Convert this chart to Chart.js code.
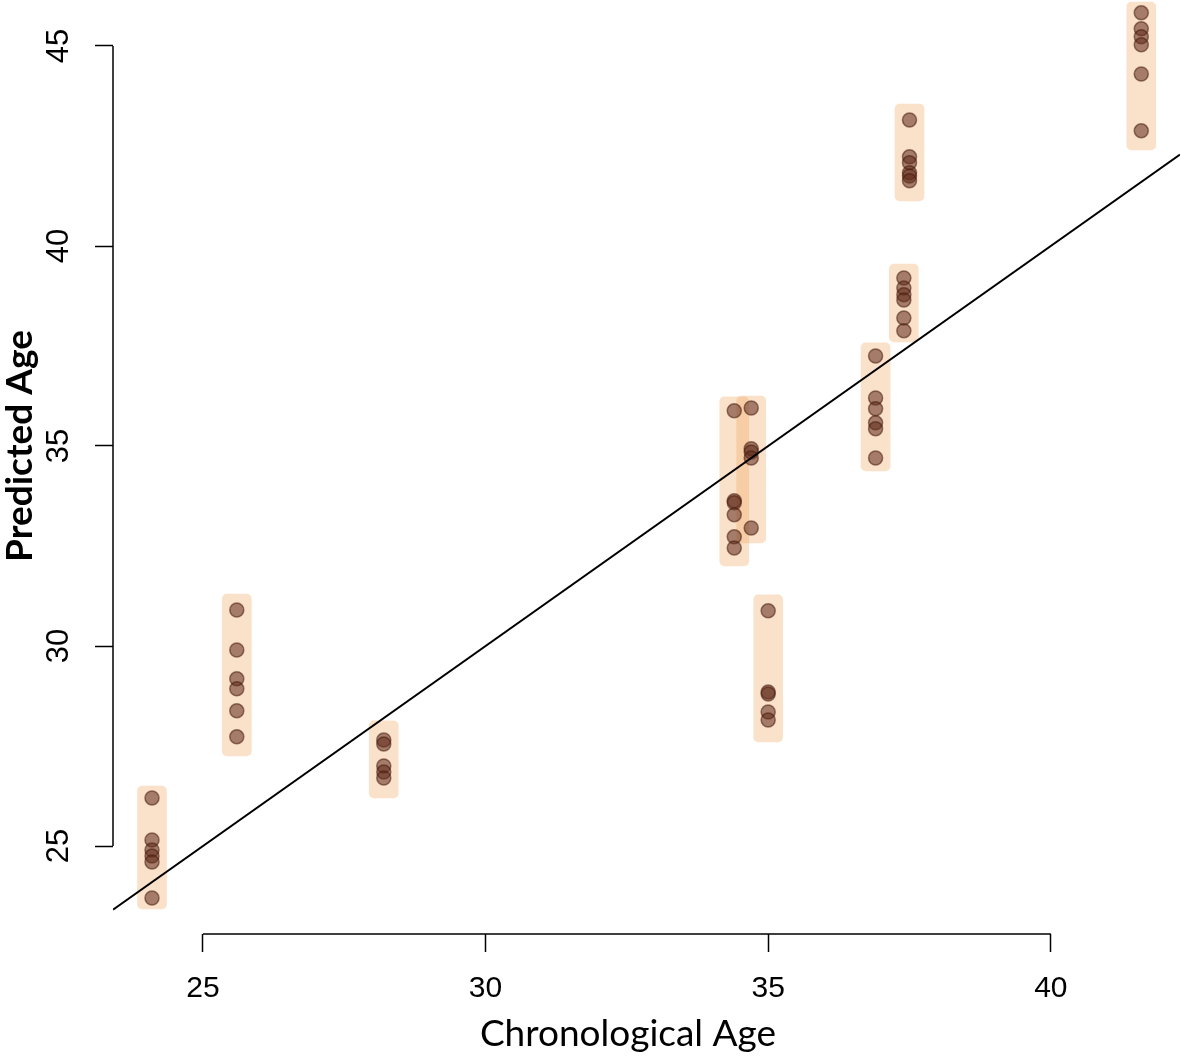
<!DOCTYPE html>
<html><head><meta charset="utf-8">
<script src="https://cdn.jsdelivr.net/npm/chart.js@4.4.1/dist/chart.umd.min.js"></script>
<style>html,body{margin:0;padding:0;background:#fff}#wrap{width:1181px;height:1057px;position:relative}</style>
</head><body><div id="wrap"><canvas id="c"></canvas></div>
<script>
// Chronological age of each sample group (x)
const groupAge = [24.1, 25.6, 28.2, 34.4, 34.7, 35.0, 36.9, 37.4, 37.5, 41.6];
// Predicted ages of replicate measurements per group (y)
const predG1 = [26.2, 25.15, 24.9, 24.75, 24.6, 23.7];
const predG2 = [30.9, 29.9, 29.18, 28.93, 28.38, 27.73];
const predG3 = [27.65, 27.55, 27.0, 26.85, 26.7];
const predG4 = [35.88, 33.63, 33.58, 33.28, 32.73, 32.45];
const predG5 = [35.95, 34.93, 34.85, 34.7, 32.95];
const predG6 = [30.88, 28.85, 28.8, 28.35, 28.15];
const predG7 = [37.25, 36.2, 35.93, 35.58, 35.43, 34.7];
const predG8 = [39.2, 38.95, 38.78, 38.65, 38.2, 37.88];
const predG9 = [43.15, 42.23, 42.08, 41.83, 41.75, 41.63];
const predG10 = [45.83, 45.43, 45.23, 45.03, 44.3, 42.88];
const predicted = [predG1, predG2, predG3, predG4, predG5, predG6, predG7, predG8, predG9, predG10];
// Shaded range per group
const rangeLow  = [23.43, 27.25, 26.2, 32.0, 32.58, 27.6, 34.38, 37.6, 41.13, 42.4];
const rangeHigh = [26.5, 31.3, 28.13, 36.23, 36.25, 31.28, 37.58, 39.55, 43.55, 46.1];
// Axis ticks and identity line
const xTicks = [25, 30, 35, 40];
const yTicks = [25, 30, 35, 40, 45];
const identityLine = [23.41, 42.285];
const xTitle = 'Chronological Age';
const yTitle = 'Predicted Age';

const pointData = [];
groupAge.forEach((a, i) => predicted[i].forEach(v => pointData.push({x: a, y: v})));
const boxData = groupAge.map((a, i) => ({x: a, y: [rangeLow[i], rangeHigh[i]]}));
const lineData = identityLine.map(v => ({x: v, y: v}));

const rAxes = {
  id: 'rAxes',
  beforeDraw(chart) {
    const ctx = chart.ctx;
    ctx.save();
    ctx.fillStyle = '#fff';
    ctx.fillRect(0, 0, chart.width, chart.height);
    ctx.restore();
  },
  afterDraw(chart) {
    const ctx = chart.ctx;
    const xs = chart.scales.x, ys = chart.scales.y;
    const area = chart.chartArea;
    ctx.save();
    ctx.strokeStyle = '#000';
    ctx.lineWidth = 1.5;
    ctx.beginPath();
    ctx.moveTo(xs.getPixelForValue(xTicks[0]), area.bottom);
    ctx.lineTo(xs.getPixelForValue(xTicks[xTicks.length - 1]), area.bottom);
    ctx.moveTo(area.left, ys.getPixelForValue(yTicks[0]));
    ctx.lineTo(area.left, ys.getPixelForValue(yTicks[yTicks.length - 1]));
    ctx.stroke();
    // y tick labels (rotated, R style)
    ctx.fillStyle = '#000';
    ctx.font = '31px "Liberation Sans", Arial, sans-serif';
    ctx.textAlign = 'center';
    ctx.textBaseline = 'middle';
    ys.ticks.forEach(t => {
      const y = ys.getPixelForValue(t.value);
      ctx.save();
      ctx.translate(58, y);
      ctx.rotate(-Math.PI / 2);
      ctx.fillText(String(t.value), 0, 1);
      ctx.restore();
    });
    // axis titles
    ctx.font = '37px Lato, "Open Sans", sans-serif';
    ctx.textBaseline = 'alphabetic';
    ctx.fillText(xTitle, 628, 1046);
    ctx.save();
    ctx.translate(32, 446);
    ctx.rotate(-Math.PI / 2);
    ctx.font = 'bold 37px Lato, "Open Sans", sans-serif';
    ctx.fillText(yTitle, 0, 0);
    ctx.restore();
    ctx.restore();
  }
};

new Chart(document.getElementById('c'), {
  type: 'scatter',
  data: {
    datasets: [
      {
        type: 'line', data: lineData, borderColor: '#000', borderWidth: 2,
        pointRadius: 0, fill: false, order: 0
      },
      {
        type: 'scatter', data: pointData, pointRadius: 7, pointHoverRadius: 7,
        backgroundColor: 'rgba(95,42,25,0.55)', borderColor: 'rgba(70,25,15,0.55)',
        borderWidth: 1.5, order: 1
      },
      {
        type: 'bar', data: boxData, barThickness: 29, borderRadius: 5,
        borderSkipped: false, borderWidth: 0,
        backgroundColor: 'rgba(240,170,100,0.35)', order: 2
      }
    ]
  },
  options: {
    responsive: true, maintainAspectRatio: false, animation: false, events: [],
    layout: {autoPadding: false, padding: {left: 0, right: 1, top: 0, bottom: 0}},
    plugins: {legend: {display: false}, tooltip: {enabled: false}},
    scales: {
      x: {
        type: 'linear', min: 23.41, max: 42.285, offset: false,
        afterBuildTicks: s => { s.ticks = xTicks.map(v => ({value: v})); },
        afterFit: s => { s.height = 123; },
        grid: {display: true, offset: false, drawOnChartArea: false, drawTicks: true, tickLength: 18, tickColor: '#000', tickWidth: 1.5},
        border: {display: false},
        ticks: {color: '#000', font: {family: '"Liberation Sans", Arial, sans-serif', size: 30}, padding: 19, maxRotation: 0, autoSkip: false}
      },
      y: {
        type: 'linear', min: 22.8, max: 46.15,
        afterBuildTicks: s => { s.ticks = yTicks.map(v => ({value: v})); },
        afterFit: s => { s.width = 113; },
        grid: {display: true, offset: false, drawOnChartArea: false, drawTicks: true, tickLength: 18, tickColor: '#000', tickWidth: 1.5},
        border: {display: false},
        ticks: {display: false}
      }
    }
  },
  plugins: [rAxes]
});
</script>
</body></html>
